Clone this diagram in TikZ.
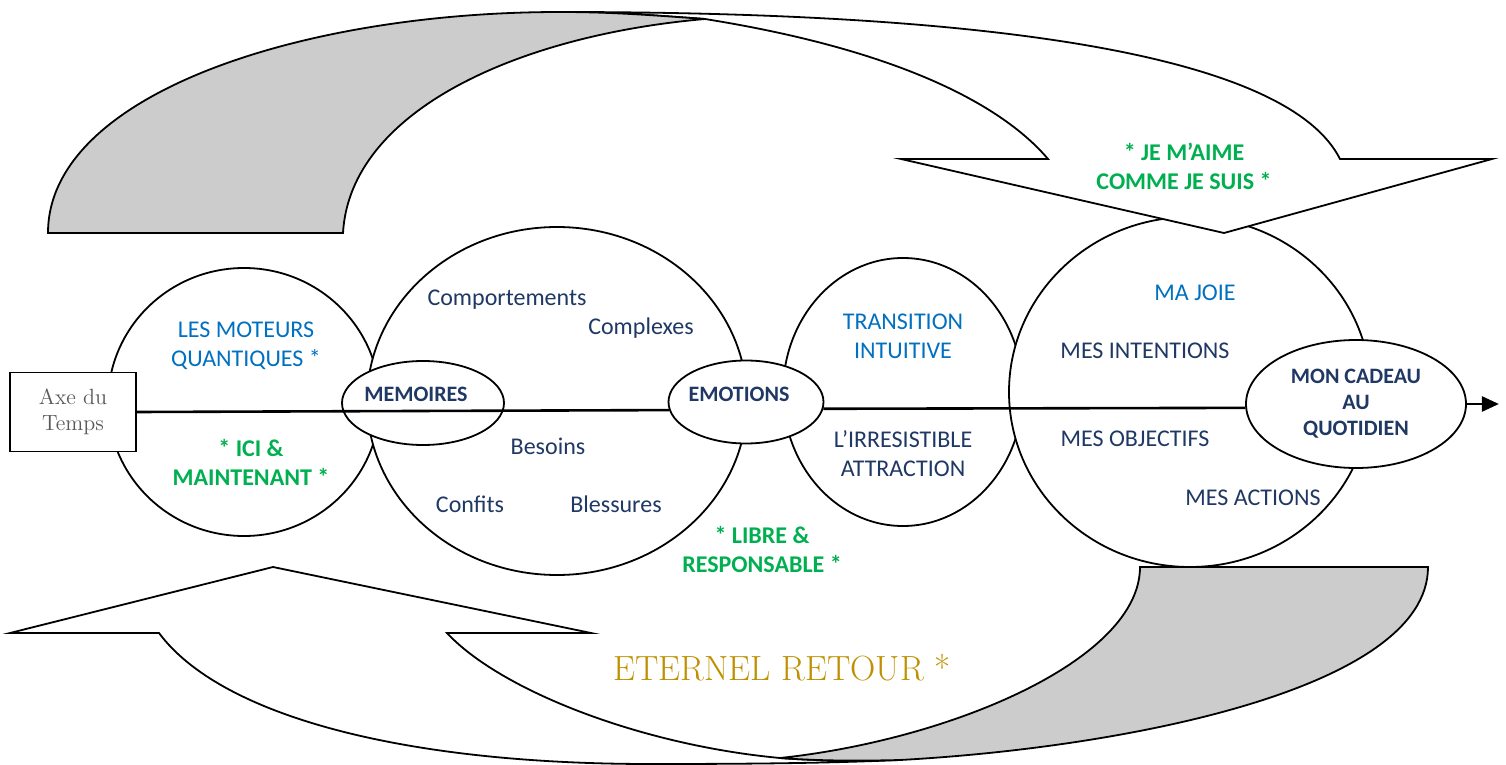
\documentclass[tikz,border=0pt]{standalone}
\usepackage{fontspec}
\newfontfamily\calibri{Carlito}
\usepackage{tikz}
\usetikzlibrary{arrows.meta,positioning,shapes.geometric}
\definecolor{bleu}{HTML}{0070C0}
\definecolor{marine}{HTML}{1F3864}
\definecolor{vert}{HTML}{00B050}
\definecolor{ocre}{HTML}{BF9000}
\definecolor{fond}{HTML}{CCCCCC}
\definecolor{gristexte}{HTML}{595959}

\begin{document}
\begin{tikzpicture}[x=0.5pt, y=-0.5pt, line width=0.9pt,
  bulle/.style={draw, ellipse, fill=white, inner sep=0pt},
  txt/.style={font=\calibri\fontsize{12}{14.5}\selectfont, align=center, inner sep=0pt, text=marine, yshift=-0.75pt},
  gras/.style={font=\calibri\bfseries\fontsize{11}{13}\selectfont, align=center, inner sep=0pt, text=marine},
  devise/.style={font=\calibri\bfseries\fontsize{12}{14.5}\selectfont, align=center, inner sep=0pt, text=vert}]
  \useasboundingbox (0,0) rectangle (1506,765);

  \node (moteurs) [bulle, minimum width=136pt, minimum height=134pt] at (244,402) {};
  \node (vecu) [bulle, minimum width=190pt, minimum height=174pt] at (557,401) {};
  \node (transition) [bulle, minimum width=120pt, minimum height=134pt] at (903,392) {};
  \node (projet) [bulle, minimum width=181pt, minimum height=175pt] at (1190,392) {};
  \node (memoires) [bulle, minimum width=81pt, minimum height=42pt] at (423,403) {};
  \node (emotions) [bulle, minimum width=77.5pt, minimum height=41.5pt] at (746,402) {};
  \node (cadeau) [bulle, gras, minimum width=110pt, minimum height=64pt] at (1356,404) {MON CADEAU\\AU\\QUOTIDIEN};
  \node (axe) [draw, fill=white, inner sep=0pt, minimum width=63pt, minimum height=39.5pt,
    align=center, text=gristexte, font=\fontsize{11}{13}\selectfont] at (73,412) {Axe du\\Temps};
  \coordinate [right=16pt of cadeau.east] (fin);

  \draw[line width=1.3pt] (axe.east) -- (emotions.186);
  \draw[line width=1.3pt] (emotions.-5) -- (cadeau.182);
  \draw[line width=1.3pt, -{Triangle[length=8.5pt,width=7.5pt]}] (cadeau.east) -- (fin);

  \filldraw[fill=white] (560,12) .. controls (1020,12) and (1290,60) .. (1340,159) -- (1492,159)
    -- (1224,233) -- (901,159) -- (1048,159) .. controls (1015,120) and (930,55) .. (705,19)
    .. controls (650,15) and (610,12) .. (560,12) -- cycle;
  \filldraw[fill=fond] (48,233) -- (343,233) .. controls (350,110) and (520,35) .. (705,19)
    .. controls (650,15) and (610,12) .. (560,12) .. controls (300,12) and (48,95) .. (48,233) -- cycle;

  \filldraw[fill=white] (159,633) .. controls (220,715) and (400,764) .. (650,764)
    .. controls (760,764) and (830,763) .. (900,760) .. controls (860,761) and (820,761) .. (780,758)
    .. controls (640,745) and (500,690) .. (447,633) -- (591,633) -- (273,567) -- (10,633) -- cycle;
  \filldraw[fill=fond] (1140,567) -- (1428,567) .. controls (1428,690) and (1120,748) .. (900,760)
    .. controls (860,761) and (820,761) .. (780,758) .. controls (950,740) and (1140,660) .. (1140,567) -- cycle;

  \node (moteursT) [txt, text=bleu] at (246,344) {LES MOTEURS\\QUANTIQUES *};
  \node (ici) [devise] at (251,462) {* ICI \&\\MAINTENANT *};
  \node (comport) [txt] at (507,298) {Comportements};
  \node (complexes) [txt] at (641,327) {Complexes};
  \node (besoins) [txt] at (548,445) {Besoins};
  \node (confits) [txt] at (470,503) {Confits};
  \node (blessures) [txt] at (616,503) {Blessures};
  \node (memoiresT) [gras] at (416,394) {MEMOIRES};
  \node (emotionsT) [gras] at (739,394) {EMOTIONS};
  \node (transT) [txt, text=bleu] at (903,335) {TRANSITION\\INTUITIVE};
  \node (attraction) [txt] at (903,452) {L’IRRESISTIBLE\\ATTRACTION};
  \node (libre) [devise] at (762,549) {* LIBRE \&\\RESPONSABLE *};
  \node (joie) [txt, text=bleu] at (1195,291) {MA JOIE};
  \node (intentions) [txt] at (1145,349) {MES INTENTIONS};
  \node (objectifs) [txt] at (1135,437) {MES OBJECTIFS};
  \node (actions) [txt] at (1253,496) {MES ACTIONS};
  \node (aime) [devise] at (1184,166) {* JE M’AIME\\COMME JE SUIS *};
  \node (retour) [font=\fontsize{17.5}{20}\selectfont, text=ocre, inner sep=0pt] at (782,668) {ETERNEL RETOUR *};
\end{tikzpicture}
\end{document}
